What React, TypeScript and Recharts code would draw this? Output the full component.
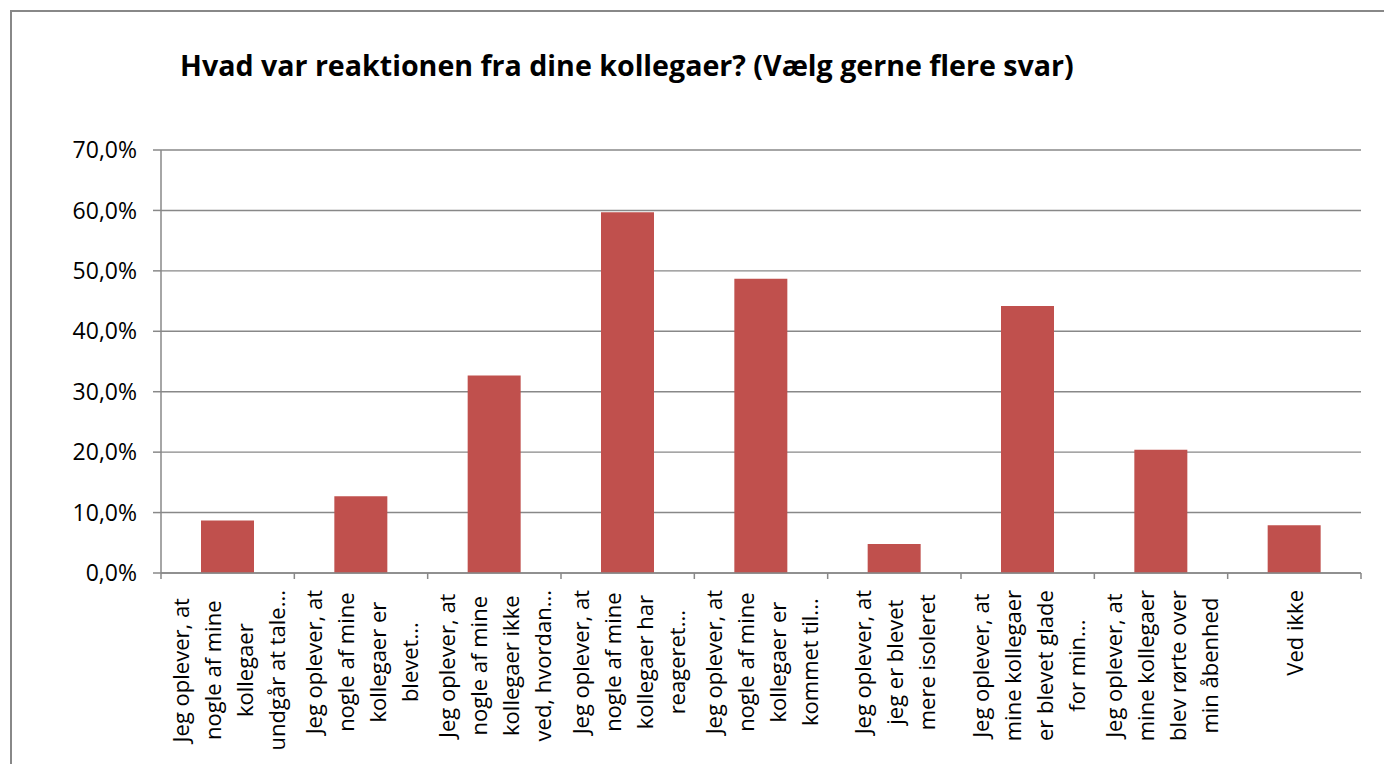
import React from "react";
import { BarChart, Bar, XAxis, YAxis, CartesianGrid } from "recharts";

const titleText = "Hvad var reaktionen fra dine kollegaer? (Vælg gerne flere svar)";

const labelLines: string[][] = [
  ["Jeg oplever, at", "nogle af mine", "kollegaer", "undgår at tale..."],
  ["Jeg oplever, at", "nogle af mine", "kollegaer er", "blevet..."],
  ["Jeg oplever, at", "nogle af mine", "kollegaer ikke", "ved, hvordan..."],
  ["Jeg oplever, at", "nogle af mine", "kollegaer har", "reageret..."],
  ["Jeg oplever, at", "nogle af mine", "kollegaer er", "kommet til..."],
  ["Jeg oplever, at", "jeg er blevet", "mere isoleret"],
  ["Jeg oplever, at", "mine kollegaer", "er blevet glade", "for min..."],
  ["Jeg oplever, at", "mine kollegaer", "blev rørte over", "min åbenhed"],
  ["Ved ikke"],
];

const categories: string[] = labelLines.map((l) => l.join(" "));

const values: number[] = [8.7, 12.7, 32.7, 59.7, 48.7, 4.8, 44.2, 20.4, 7.9];

const yTicks: number[] = [0, 10, 20, 30, 40, 50, 60, 70];

const data = categories.map((name, i) => ({ name, value: values[i] }));

const FONT = "'Open Sans', sans-serif";
const X_FONT_SIZE = 22;
const LINE_GAP = 32;
const AXIS_COLOR = "#888888";

let measureCtx: CanvasRenderingContext2D | null = null;
function measure(text: string, size: number): number {
  try {
    if (!measureCtx) {
      const c = document.createElement("canvas");
      measureCtx = c.getContext("2d");
    }
    if (measureCtx) {
      measureCtx.font = `${size}px 'Open Sans'`;
      return measureCtx.measureText(text).width;
    }
  } catch (e) {}
  return text.length * size * 0.52;
}

function XTick(props: any) {
  const { x, y, payload } = props;
  const idx = categories.indexOf(payload.value);
  const lines = idx >= 0 ? labelLines[idx] : [String(payload.value)];
  const half = payload.offset ?? 0;
  const maxW = Math.max(...lines.map((l) => measure(l, X_FONT_SIZE)));
  const top = y + 17;
  const cy = top + maxW / 2;
  const n = lines.length;
  return (
    <g>
      <line x1={x - half} x2={x - half} y1={y} y2={y + 6} stroke={AXIS_COLOR} strokeWidth={1.5} />
      {idx === categories.length - 1 && (
        <line x1={x + half} x2={x + half} y1={y} y2={y + 6} stroke={AXIS_COLOR} strokeWidth={1.5} />
      )}
      {lines.map((l, i) => {
        const cx = x + (i - (n - 1) / 2) * LINE_GAP;
        return (
          <text
            key={i}
            transform={`translate(${cx}, ${cy}) rotate(-90)`}
            textAnchor="middle"
            dominantBaseline="central"
            fontFamily={FONT}
            fontSize={X_FONT_SIZE}
            fill="#000"
          >
            {l}
          </text>
        );
      })}
    </g>
  );
}

const fmt = (v: number) => v.toFixed(1).replace(".", ",") + "%";

export default function App() {
  return (
    <div
      style={{
        position: "fixed",
        left: 0,
        top: 0,
        width: 1384,
        height: 764,
        overflow: "hidden",
        background: "#fff",
      }}
    >
      <div
        style={{
          position: "absolute",
          left: 10,
          top: 10,
          width: 1500,
          height: 900,
          border: `2px solid ${AXIS_COLOR}`,
        }}
      />
      <svg style={{ position: "absolute", left: 0, top: 0 }} width={1384} height={120}>
        <text x={180} y={76} fontFamily={FONT} fontWeight={700} fontSize={28.6} fill="#000">
          {titleText}
        </text>
      </svg>
      <div style={{ position: "absolute", left: 0, top: 0 }}>
        <BarChart
          width={1384}
          height={764}
          data={data}
          margin={{ top: 150, right: 23, left: 0, bottom: 0 }}
          barCategoryGap="30%"
        >
          <CartesianGrid vertical={false} stroke={AXIS_COLOR} strokeWidth={1.4} />
          <XAxis
            dataKey="name"
            type="category"
            height={191}
            interval={0}
            tickSize={0}
            tickMargin={0}
            tickLine={false}
            axisLine={{ stroke: AXIS_COLOR, strokeWidth: 1.5 }}
            tick={<XTick />}
          />
          <YAxis
            width={161}
            domain={[0, 70]}
            ticks={yTicks}
            interval={0}
            tickFormatter={fmt}
            tickSize={8}
            tickMargin={16}
            axisLine={{ stroke: AXIS_COLOR, strokeWidth: 1.5 }}
            tickLine={{ stroke: AXIS_COLOR, strokeWidth: 1.5 }}
            tick={{ fill: "#000", fontSize: 23, fontFamily: FONT }}
          />
          <Bar dataKey="value" fill="#C0504D" isAnimationActive={false} />
        </BarChart>
      </div>
    </div>
  );
}
